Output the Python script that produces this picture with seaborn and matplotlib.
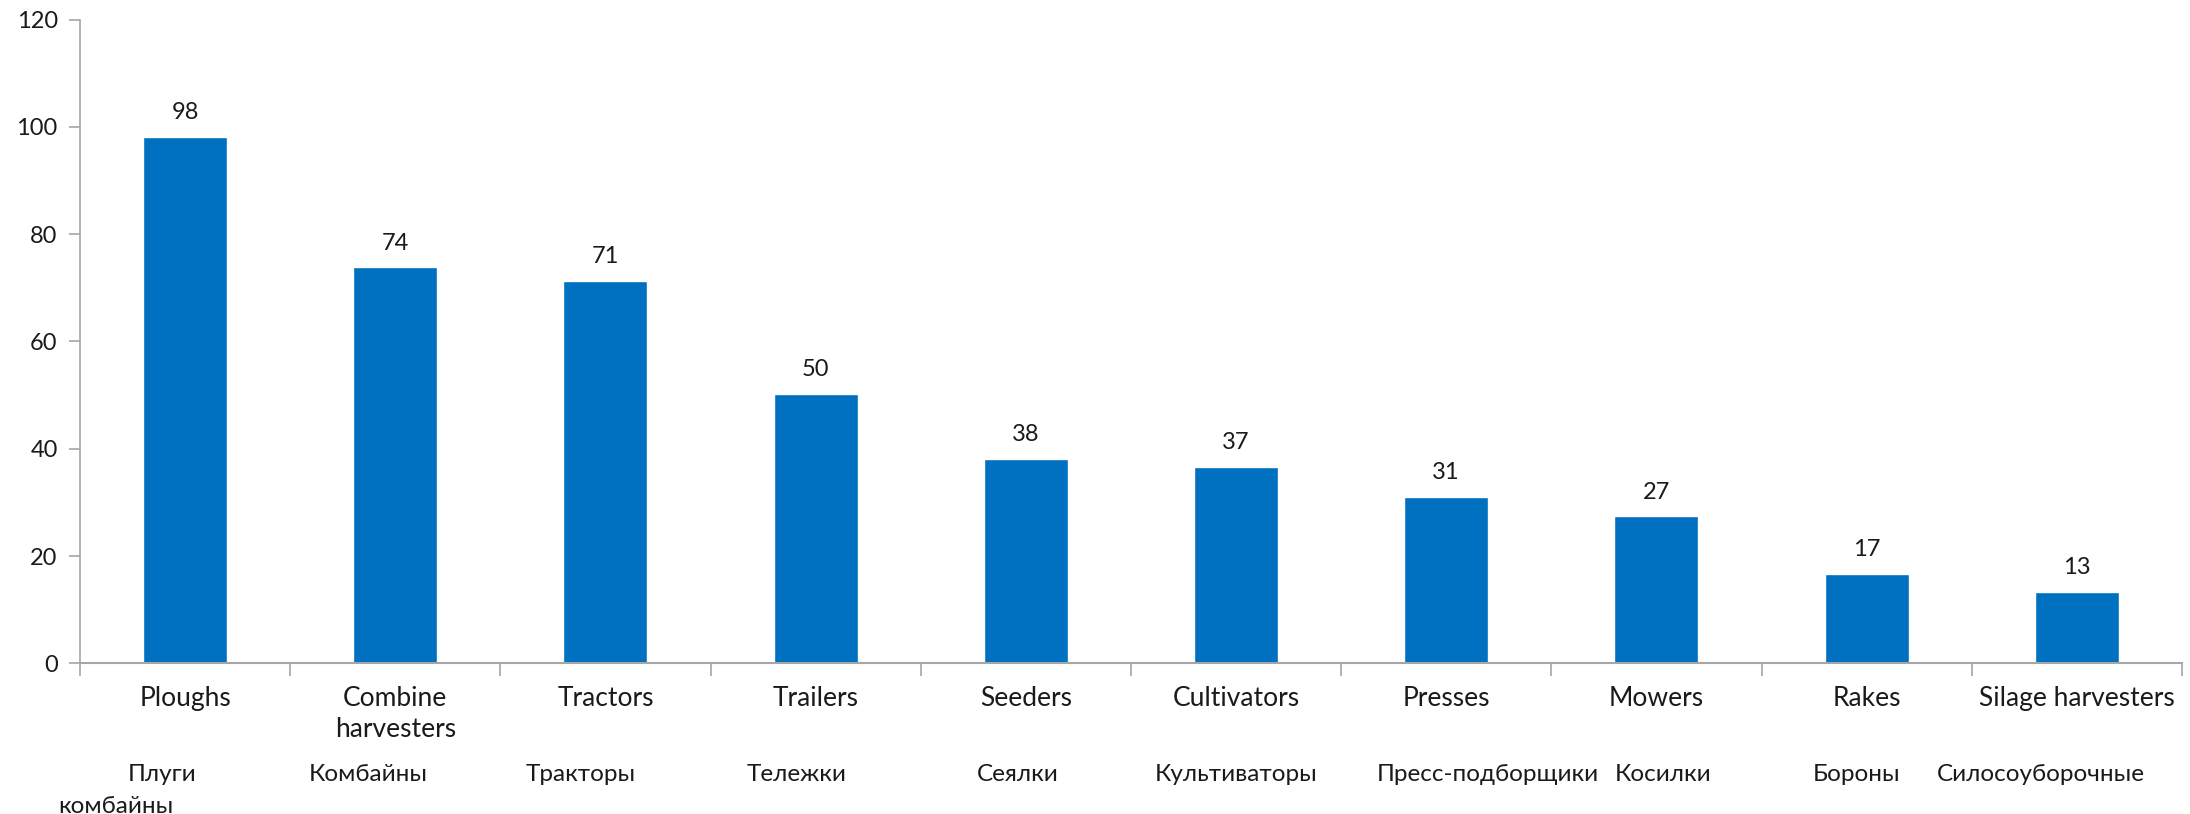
import matplotlib
matplotlib.use("Agg")
import matplotlib.pyplot as plt
import matplotlib.transforms as mtransforms
import seaborn as sns
import pandas as pd
import numpy as np

# data
categories_en = ["Ploughs", "Combine\nharvesters", "Tractors", "Trailers", "Seeders",
                 "Cultivators", "Presses", "Mowers", "Rakes", "Silage harvesters"]
categories_ru = ["Плуги", "Комбайны", "Тракторы", "Тележки", "Сеялки",
                 "Культиваторы", "Пресс-подборщики", "Косилки", "Бороны", "Силосоуборочные"]
values = [98.2, 73.8, 71.2, 50.3, 38.1, 36.6, 31.0, 27.4, 16.6, 13.3]
y_ticks = [0, 20, 40, 60, 80, 100, 120]

# layout: horizontal nudge of the russian labels (category units)
ru_shift = [-0.11, -0.13, -0.12, -0.09, -0.04, 0.0, 0.2, 0.03, -0.05, -0.17]

sns.set_theme(style="white")
plt.rcParams['font.family'] = ['Lato', 'DejaVu Sans']

df = pd.DataFrame({"cat": categories_en, "val": values})

fig = plt.figure(figsize=(21.9, 8.14), dpi=100)
ax = fig.add_axes([0.0365, 0.185, 0.9598, 0.791])

sns.barplot(data=df, x="cat", y="val", color="#0070C0", width=0.4,
            saturation=1, ax=ax, order=categories_en)
for c in ax.containers:
    ax.bar_label(c, fmt="%.0f", padding=10, fontsize=17, color="#1a1a1a")

ax.set_xlim(-0.5, len(categories_en) - 0.5)
ax.set_ylim(0, 120)
ax.set_yticks(y_ticks)
ax.set_xlabel("")
ax.set_ylabel("")

grey = "#a6a6a6"
for side in ["top", "right"]:
    ax.spines[side].set_visible(False)
ax.spines["left"].set_color(grey)
ax.spines["bottom"].set_color(grey)
ax.spines["left"].set_linewidth(1.2)
ax.spines["bottom"].set_linewidth(1.5)

ax.tick_params(axis="y", direction="out", length=8, width=1.2, color=grey,
               labelsize=17, labelcolor="#1a1a1a", left=True, pad=8)
ax.set_xticks(np.arange(len(categories_en)))
ax.set_xticklabels(categories_en, fontsize=19, color="#1a1a1a", linespacing=1.3)
ax.tick_params(axis="x", which="major", length=0, pad=16)
ax.set_xticks(np.arange(-0.5, len(categories_en)), minor=True)
ax.tick_params(axis="x", which="minor", direction="out", length=9, width=1.2,
               color=grey, bottom=True)
for lbl in ax.get_xticklabels():
    lbl.set_verticalalignment("top")

trans = mtransforms.blended_transform_factory(ax.transData, ax.transAxes)
for i, name in enumerate(categories_ru):
    ax.text(i + ru_shift[i], -0.172, name, transform=trans, ha="center", va="center",
            fontsize=17.5, color="#1a1a1a")
ax.text(-0.33, -0.222, "комбайны", transform=trans, ha="center", va="center",
        fontsize=17.5, color="#1a1a1a")

fig.savefig("out.png", dpi=100, facecolor="white")
